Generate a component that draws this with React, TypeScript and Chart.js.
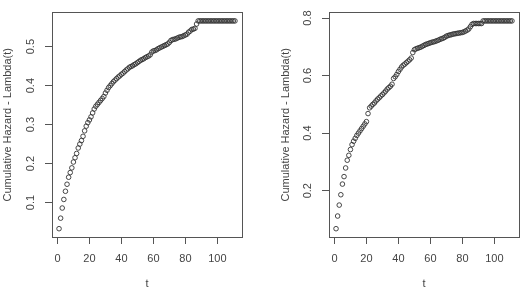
import React, { useEffect, useRef } from "react";
import { Chart, registerables } from "chart.js";

Chart.register(...registerables);

const times = [
  1, 2, 3, 4, 5, 6, 7, 8, 9, 10, 11, 12, 13, 14, 15, 16, 17, 18, 19, 20,
  21, 22, 23, 24, 25, 26, 27, 28, 29, 30, 31, 32, 33, 34, 35, 36, 37, 38, 39, 40,
  41, 42, 43, 44, 45, 46, 47, 48, 49, 50, 51, 52, 53, 54, 55, 56, 57, 58, 59, 60,
  61, 62, 63, 64, 65, 66, 67, 68, 69, 70, 71, 72, 73, 74, 75, 76, 77, 78, 79, 80,
  81, 82, 83, 84, 85, 86, 87, 88, 89, 90, 91, 92, 93, 94, 95, 96, 97, 98, 99, 100,
  101, 102, 103, 104, 105, 106, 107, 108, 109, 110, 111,
];

const hazardLeft = [
  0.033, 0.06, 0.086, 0.108, 0.129, 0.147, 0.165, 0.177, 0.189, 0.204,
  0.215, 0.226, 0.24, 0.25, 0.259, 0.27, 0.284, 0.296, 0.305, 0.312,
  0.32, 0.33, 0.34, 0.347, 0.352, 0.357, 0.362, 0.367, 0.372, 0.381,
  0.388, 0.395, 0.4, 0.405, 0.41, 0.414, 0.418, 0.422, 0.425, 0.429,
  0.432, 0.436, 0.44, 0.443, 0.447, 0.449, 0.451, 0.454, 0.456, 0.459,
  0.462, 0.465, 0.467, 0.469, 0.472, 0.474, 0.476, 0.479, 0.486, 0.489,
  0.49, 0.492, 0.495, 0.497, 0.499, 0.501, 0.503, 0.505, 0.507, 0.511,
  0.516, 0.518, 0.519, 0.52, 0.522, 0.524, 0.525, 0.526, 0.528, 0.53,
  0.532, 0.537, 0.54, 0.544, 0.545, 0.547, 0.558, 0.566, 0.566, 0.566,
  0.566, 0.566, 0.566, 0.566, 0.566, 0.566, 0.566, 0.566, 0.566, 0.566,
  0.566, 0.566, 0.566, 0.566, 0.566, 0.566, 0.566, 0.566, 0.566, 0.566,
  0.566,
];

const hazardRight = [
  0.068, 0.112, 0.15, 0.186, 0.223, 0.249, 0.279, 0.306, 0.323, 0.343,
  0.36, 0.372, 0.382, 0.392, 0.4, 0.408, 0.416, 0.424, 0.432, 0.44,
  0.468, 0.488, 0.494, 0.5, 0.505, 0.512, 0.518, 0.523, 0.529, 0.534,
  0.54, 0.546, 0.553, 0.558, 0.563, 0.57, 0.59, 0.596, 0.604, 0.614,
  0.622, 0.63, 0.636, 0.64, 0.645, 0.65, 0.655, 0.661, 0.68, 0.69,
  0.693, 0.695, 0.697, 0.699, 0.702, 0.705, 0.708, 0.71, 0.712, 0.714,
  0.716, 0.717, 0.719, 0.721, 0.723, 0.726, 0.728, 0.73, 0.733, 0.737,
  0.739, 0.741, 0.742, 0.744, 0.745, 0.746, 0.747, 0.748, 0.749, 0.75,
  0.752, 0.755, 0.758, 0.762, 0.77, 0.778, 0.781, 0.781, 0.781, 0.781,
  0.781, 0.781, 0.79, 0.79, 0.79, 0.79, 0.79, 0.79, 0.79, 0.79,
  0.79, 0.79, 0.79, 0.79, 0.79, 0.79, 0.79, 0.79, 0.79, 0.79,
  0.79,
];

const xTicks = [0, 20, 40, 60, 80, 100];
const yTicksLeft = [0.1, 0.2, 0.3, 0.4, 0.5];
const yTicksRight = [0.2, 0.4, 0.6, 0.8];

const xLabel = "t";
const yLabel = "Cumulative Hazard - Lambda(t)";

const AXIS_COLOR = "#555";
const TEXT_COLOR = "#444";
const FONT = { family: "'Liberation Sans', Arial, sans-serif", size: 11 };

function rangeWithPad(values: number[]) {
  const lo = Math.min(...values);
  const hi = Math.max(...values);
  const pad = (hi - lo) * 0.04;
  return [lo - pad, hi + pad];
}

type PanelProps = {
  values: number[];
  yTicks: number[];
  yWidth: number;
  padLeft: number;
  padRight: number;
};

function Panel({ values, yTicks, yWidth, padLeft, padRight }: PanelProps) {
  const ref = useRef<HTMLCanvasElement | null>(null);
  useEffect(() => {
    if (!ref.current) return;
    const [xmin, xmax] = rangeWithPad(times);
    const [ymin, ymax] = rangeWithPad(values);
    const frameAxis = (position: string, horizontal: boolean, min: number, max: number) => ({
      type: "linear",
      position,
      min,
      max,
      display: true,
      grid: { display: false, drawTicks: false },
      border: { display: true, color: AXIS_COLOR, width: 1 },
      ticks: { display: false },
      afterFit: (s: any) => {
        if (horizontal) s.height = 0;
        else s.width = 0;
      },
    });
    const chart = new Chart(ref.current, {
      type: "scatter",
      data: {
        datasets: [
          {
            data: times.map((t, i) => ({ x: t, y: values[i] })),
            pointStyle: "circle",
            pointRadius: 2.3,
            pointBorderWidth: 0.9,
            pointBorderColor: "#333",
            pointBackgroundColor: "rgba(0,0,0,0)",
            showLine: false,
          },
        ],
      },
      options: {
        animation: false,
        responsive: false,
        events: [],
        layout: { padding: { top: 8, bottom: 0, left: padLeft, right: padRight } },
        plugins: { legend: { display: false }, tooltip: { enabled: false } },
        scales: {
          x: {
            type: "linear",
            position: "bottom",
            min: xmin,
            max: xmax,
            afterBuildTicks: (s: any) => {
              s.ticks = xTicks.map((v) => ({ value: v }));
            },
            afterFit: (s: any) => {
              s.height = 52;
            },
            grid: {
              display: true,
              drawOnChartArea: false,
              drawTicks: true,
              tickLength: 7,
              color: AXIS_COLOR,
            },
            border: { display: true, color: AXIS_COLOR },
            ticks: {
              color: TEXT_COLOR,
              font: FONT,
              padding: 8,
              maxRotation: 0,
              autoSkip: false,
              callback: (v: any) => String(v),
            },
            title: {
              display: true,
              text: xLabel,
              color: TEXT_COLOR,
              font: FONT,
              padding: { top: 0, bottom: -2 },
            },
          },
          y: {
            type: "linear",
            position: "left",
            min: ymin,
            max: ymax,
            afterBuildTicks: (s: any) => {
              s.ticks = yTicks.map((v) => ({ value: v }));
            },
            afterFit: (s: any) => {
              s.width = yWidth;
            },
            grid: {
              display: true,
              drawOnChartArea: false,
              drawTicks: true,
              tickLength: 7,
              color: AXIS_COLOR,
            },
            border: { display: true, color: AXIS_COLOR },
            ticks: {
              color: TEXT_COLOR,
              font: FONT,
              padding: 6,
              minRotation: 90,
              maxRotation: 90,
              crossAlign: "center",
              autoSkip: false,
              callback: (v: any) => Number(v).toFixed(1),
            },
            title: {
              display: true,
              text: yLabel,
              color: TEXT_COLOR,
              font: FONT,
              padding: { top: 1, bottom: 0 },
            },
          },
          xTop: frameAxis("top", true, xmin, xmax),
          yRight: frameAxis("right", false, ymin, ymax),
        },
      },
    } as any);
    return () => chart.destroy();
  }, [values, yTicks, yWidth, padLeft, padRight]);
  return <canvas ref={ref} width={263} height={289} style={{ display: "block", width: 263, height: 289 }} />;
}

export default function App() {
  return (
    <div
      style={{
        position: "fixed",
        left: 0,
        top: 0,
        width: 526,
        height: 289,
        display: "flex",
        background: "#fff",
      }}
    >
      <Panel values={hazardLeft} yTicks={yTicksLeft} yWidth={52} padLeft={0} padRight={21} />
      <Panel values={hazardRight} yTicks={yTicksRight} yWidth={51} padLeft={15} padRight={7} />
    </div>
  );
}
